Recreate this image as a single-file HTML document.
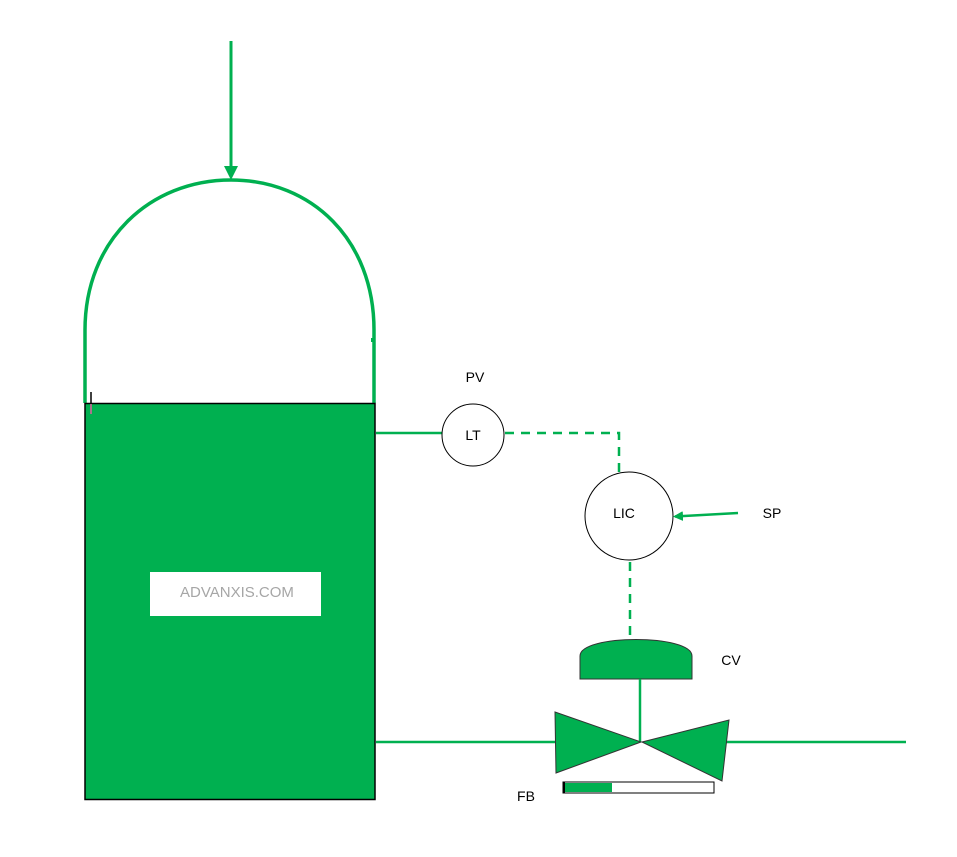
<!DOCTYPE html>
<html><head><meta charset="utf-8"><style>
html,body{margin:0;padding:0;background:#fff;}
svg{display:block;}
text{font-family:"Liberation Sans",sans-serif;}
</style></head><body>
<svg width="957" height="857" viewBox="0 0 957 857" xmlns="http://www.w3.org/2000/svg">
<defs><marker id="ah" markerWidth="10" markerHeight="10" refX="8" refY="5" orient="auto" markerUnits="userSpaceOnUse"><path d="M0,0 L10,5 L0,10 z" fill="#00b050"/></marker></defs>
<!-- inlet -->
<line x1="231" y1="41" x2="231" y2="170" stroke="#00b050" stroke-width="3"/>
<path d="M224,166 L231,180 L238,166 z" fill="#00b050"/>
<!-- dome -->
<path d="M85,403 L85,330 C85,240 150,180 231,180 C312,180 374,240 374,330 L374,403" fill="none" stroke="#00b050" stroke-width="3.5"/>
<rect x="371" y="338" width="4" height="4" fill="#00b050"/>
<!-- tank -->
<rect x="85" y="403.5" width="290" height="396" fill="#00b050" stroke="#000" stroke-width="1.5"/>
<line x1="91" y1="392" x2="91" y2="404" stroke="#000" stroke-width="1.5"/>
<line x1="91" y1="404" x2="91" y2="414" stroke="#e060a0" stroke-width="1.5"/>
<rect x="150" y="572" width="171" height="44" fill="#fff"/>
<text x="180" y="597" font-size="15" fill="#a6a6a6">ADVANXIS.COM</text>
<!-- LT -->
<line x1="376" y1="433" x2="442" y2="433" stroke="#00b050" stroke-width="2.5"/>
<circle cx="473" cy="435" r="31" fill="#fff" stroke="#000" stroke-width="1"/>
<text x="473" y="440" font-size="14" text-anchor="middle">LT</text>
<text x="475" y="382" font-size="14" text-anchor="middle">PV</text>
<path d="M505,433 L619,433 L619,474" fill="none" stroke="#00b050" stroke-width="2.5" stroke-dasharray="9,7"/>
<!-- LIC -->
<circle cx="629" cy="516" r="44" fill="#fff" stroke="#000" stroke-width="1"/>
<text x="624" y="518" font-size="14" text-anchor="middle">LIC</text>
<line x1="738" y1="513" x2="675" y2="516.5" stroke="#00b050" stroke-width="2.5" marker-end="url(#ah)"/>
<text x="772" y="518" font-size="14" text-anchor="middle">SP</text>
<line x1="630" y1="562" x2="630" y2="637" stroke="#00b050" stroke-width="2.5" stroke-dasharray="9,7"/>
<!-- actuator -->
<path d="M580,679 L580,656 C580,634 692,634 692,656 L692,679 z" fill="#00b050" stroke="#333" stroke-width="1"/>
<text x="731" y="665" font-size="14" text-anchor="middle">CV</text>
<line x1="640" y1="679" x2="640" y2="742" stroke="#00b050" stroke-width="2.5"/>
<!-- pipes -->
<line x1="376" y1="742" x2="556" y2="742" stroke="#00b050" stroke-width="2.5"/>
<line x1="726" y1="742" x2="906" y2="742" stroke="#00b050" stroke-width="2.5"/>
<!-- valve -->
<path d="M555,712 L641,742 L556,773 z" fill="#00b050" stroke="#333" stroke-width="1"/>
<path d="M642,742 L729,720 L722,781 z" fill="#00b050" stroke="#333" stroke-width="1"/>
<!-- FB -->
<rect x="563" y="782" width="151" height="11" fill="#fff" stroke="#000" stroke-width="1"/>
<rect x="564" y="783" width="48" height="9" fill="#00b050"/>
<line x1="564" y1="782" x2="564" y2="793" stroke="#000" stroke-width="2"/>
<text x="526" y="801" font-size="14" text-anchor="middle">FB</text>
</svg>
</body></html>
